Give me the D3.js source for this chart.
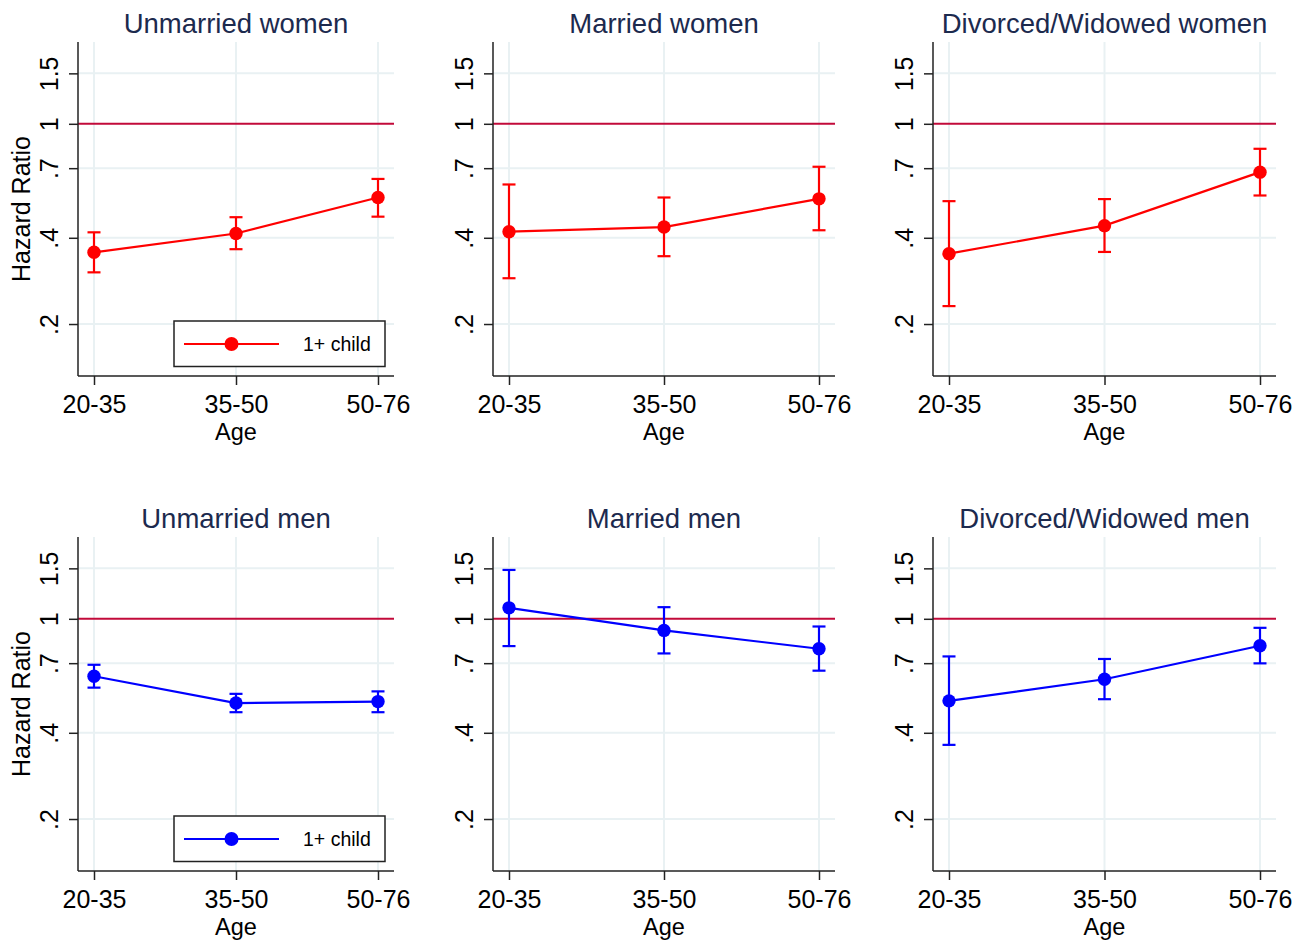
<!DOCTYPE html>
<html>
<head>
<meta charset="utf-8">
<script src="https://cdn.jsdelivr.net/npm/d3@7"></script>
<style>
  html, body { margin: 0; padding: 0; background: #ffffff; }
  svg { display: block; }
  text { font-family: "Liberation Sans", Arial, Helvetica, sans-serif; }
</style>
</head>
<body>
<svg id="chart" width="1306" height="941"></svg>
<script>
// ---------------- data ----------------
const ageGroups = ["20-35", "35-50", "50-76"];
const panelTitles = [
  "Unmarried women", "Married women", "Divorced/Widowed women",
  "Unmarried men", "Married men", "Divorced/Widowed men"
];
const hazardRatio = [
  [0.356, 0.414, 0.553],
  [0.420, 0.436, 0.547],
  [0.352, 0.441, 0.678],
  [0.630, 0.508, 0.514],
  [1.092, 0.911, 0.786],
  [0.517, 0.615, 0.805]
];
const ciLower = [
  [0.303, 0.365, 0.474],
  [0.289, 0.345, 0.425],
  [0.231, 0.357, 0.562],
  [0.575, 0.472, 0.472],
  [0.803, 0.757, 0.659],
  [0.363, 0.524, 0.699]
];
const ciUpper = [
  [0.418, 0.472, 0.642],
  [0.614, 0.553, 0.708],
  [0.537, 0.546, 0.818],
  [0.691, 0.547, 0.558],
  [1.481, 1.098, 0.940],
  [0.739, 0.724, 0.930]
];
const yTicks = [0.2, 0.4, 0.7, 1, 1.5];
const yTickLabels = [".2", ".4", ".7", "1", "1.5"];
const yDomain = [0.1317, 1.93];
const referenceValue = 1;
const legendLabel = "1+ child";
const xAxisTitle = "Age";
const yAxisTitle = "Hazard Ratio";

// ---------------- layout / style ----------------
const colBounds = [[78, 394], [493, 835], [933, 1276]];
const rowBounds = [[42, 376], [537, 871]];
const rowColors = ["#ff0000", "#0000ff"];
const gridColor = "#e9f1f3";
const refColor = "#c20a3a";
const titleColor = "#1c2a4e";
const axisColor = "#222222";

const svg = d3.select("#chart");

panelTitles.forEach((title, i) => {
  const row = Math.floor(i / 3), col = i % 3;
  const [x0, x1] = colBounds[col];
  const [y0, y1] = rowBounds[row];
  const color = rowColors[row];

  const x = d3.scalePoint().domain(ageGroups).range([x0 + 16, x1 - 16]);
  const y = d3.scaleLog().domain(yDomain).range([y1, y0]);

  const g = svg.append("g");

  // grid lines
  g.selectAll(".hgrid").data(yTicks.filter(t => t !== referenceValue)).join("line")
    .attr("x1", x0).attr("x2", x1)
    .attr("y1", d => y(d)).attr("y2", d => y(d))
    .attr("stroke", gridColor).attr("stroke-width", 2);
  g.selectAll(".vgrid").data(ageGroups).join("line")
    .attr("x1", d => x(d)).attr("x2", d => x(d))
    .attr("y1", y0).attr("y2", y1)
    .attr("stroke", gridColor).attr("stroke-width", 2);

  // reference line at 1
  g.append("line")
    .attr("x1", x0).attr("x2", x1)
    .attr("y1", y(referenceValue)).attr("y2", y(referenceValue))
    .attr("stroke", refColor).attr("stroke-width", 2);

  // axes
  const yAxis = d3.axisLeft(y).tickValues(yTicks)
    .tickFormat((d, k) => yTickLabels[k]).tickSize(9).tickPadding(0);
  const ya = g.append("g").attr("transform", `translate(${x0},0)`).call(yAxis);
  ya.select(".domain").attr("d", `M0,${y0}V${y1}`).attr("stroke", axisColor).attr("stroke-width", 1.5);
  ya.selectAll(".tick line").attr("stroke", axisColor).attr("stroke-width", 1.5);
  ya.selectAll(".tick text")
    .attr("x", 0).attr("y", 0).attr("dy", null)
    .attr("transform", "translate(-20,0) rotate(-90)")
    .attr("text-anchor", "middle")
    .attr("font-size", 25).attr("fill", "#000")
    .style("font-family", "'Liberation Sans', Arial, sans-serif");

  const xAxis = d3.axisBottom(x).tickSize(9).tickPadding(0);
  const xa = g.append("g").attr("transform", `translate(0,${y1})`).call(xAxis);
  xa.select(".domain").attr("d", `M${x0},0H${x1}`).attr("stroke", axisColor).attr("stroke-width", 1.5);
  xa.selectAll(".tick line").attr("stroke", axisColor).attr("stroke-width", 1.5);
  xa.selectAll(".tick text")
    .attr("y", 37).attr("dy", null)
    .attr("font-size", 25).attr("fill", "#000")
    .style("font-family", "'Liberation Sans', Arial, sans-serif");

  // x axis title
  g.append("text")
    .attr("x", (x(ageGroups[0]) + x(ageGroups[2])) / 2)
    .attr("y", y1 + 64)
    .attr("text-anchor", "middle")
    .attr("font-size", 23.5).attr("fill", "#000")
    .text(xAxisTitle);

  // y axis title
  if (col === 0) {
    g.append("text")
      .attr("transform", `translate(30,${(y0 + y1) / 2}) rotate(-90)`)
      .attr("text-anchor", "middle")
      .attr("font-size", 25).attr("fill", "#000")
      .text(yAxisTitle);
  }

  // panel title
  g.append("text")
    .attr("x", (x(ageGroups[0]) + x(ageGroups[2])) / 2)
    .attr("y", y0 - 9)
    .attr("text-anchor", "middle")
    .attr("font-size", 27.5).attr("fill", titleColor)
    .text(title);

  // data
  const pts = ageGroups.map((a, k) => ({
    a, v: hazardRatio[i][k], lo: ciLower[i][k], hi: ciUpper[i][k]
  }));

  // error bars
  const eb = g.selectAll(".eb").data(pts).join("g");
  eb.append("line")
    .attr("x1", d => x(d.a)).attr("x2", d => x(d.a))
    .attr("y1", d => y(d.lo)).attr("y2", d => y(d.hi))
    .attr("stroke", color).attr("stroke-width", 2.2);
  eb.append("line")
    .attr("x1", d => x(d.a) - 6.5).attr("x2", d => x(d.a) + 6.5)
    .attr("y1", d => y(d.lo)).attr("y2", d => y(d.lo))
    .attr("stroke", color).attr("stroke-width", 2.2);
  eb.append("line")
    .attr("x1", d => x(d.a) - 6.5).attr("x2", d => x(d.a) + 6.5)
    .attr("y1", d => y(d.hi)).attr("y2", d => y(d.hi))
    .attr("stroke", color).attr("stroke-width", 2.2);

  // connecting line
  g.append("path")
    .datum(pts)
    .attr("d", d3.line().x(d => x(d.a)).y(d => y(d.v)))
    .attr("fill", "none").attr("stroke", color).attr("stroke-width", 2.2);

  // markers
  g.selectAll(".pt").data(pts).join("circle")
    .attr("cx", d => x(d.a)).attr("cy", d => y(d.v))
    .attr("r", 6.7).attr("fill", color);

  // legend
  if (col === 0) {
    const lx = 174, ly = y0 + 279;
    const lg = g.append("g");
    lg.append("rect")
      .attr("x", lx).attr("y", ly).attr("width", 211).attr("height", 45.5)
      .attr("fill", "#fff").attr("stroke", axisColor).attr("stroke-width", 1.5);
    lg.append("line")
      .attr("x1", lx + 10).attr("x2", lx + 105)
      .attr("y1", ly + 23).attr("y2", ly + 23)
      .attr("stroke", color).attr("stroke-width", 2.2);
    lg.append("circle")
      .attr("cx", lx + 57.5).attr("cy", ly + 23).attr("r", 7).attr("fill", color);
    lg.append("text")
      .attr("x", lx + 129).attr("y", ly + 30)
      .attr("font-size", 19.5).attr("fill", "#000")
      .text(legendLabel);
  }
});
</script>
</body>
</html>
